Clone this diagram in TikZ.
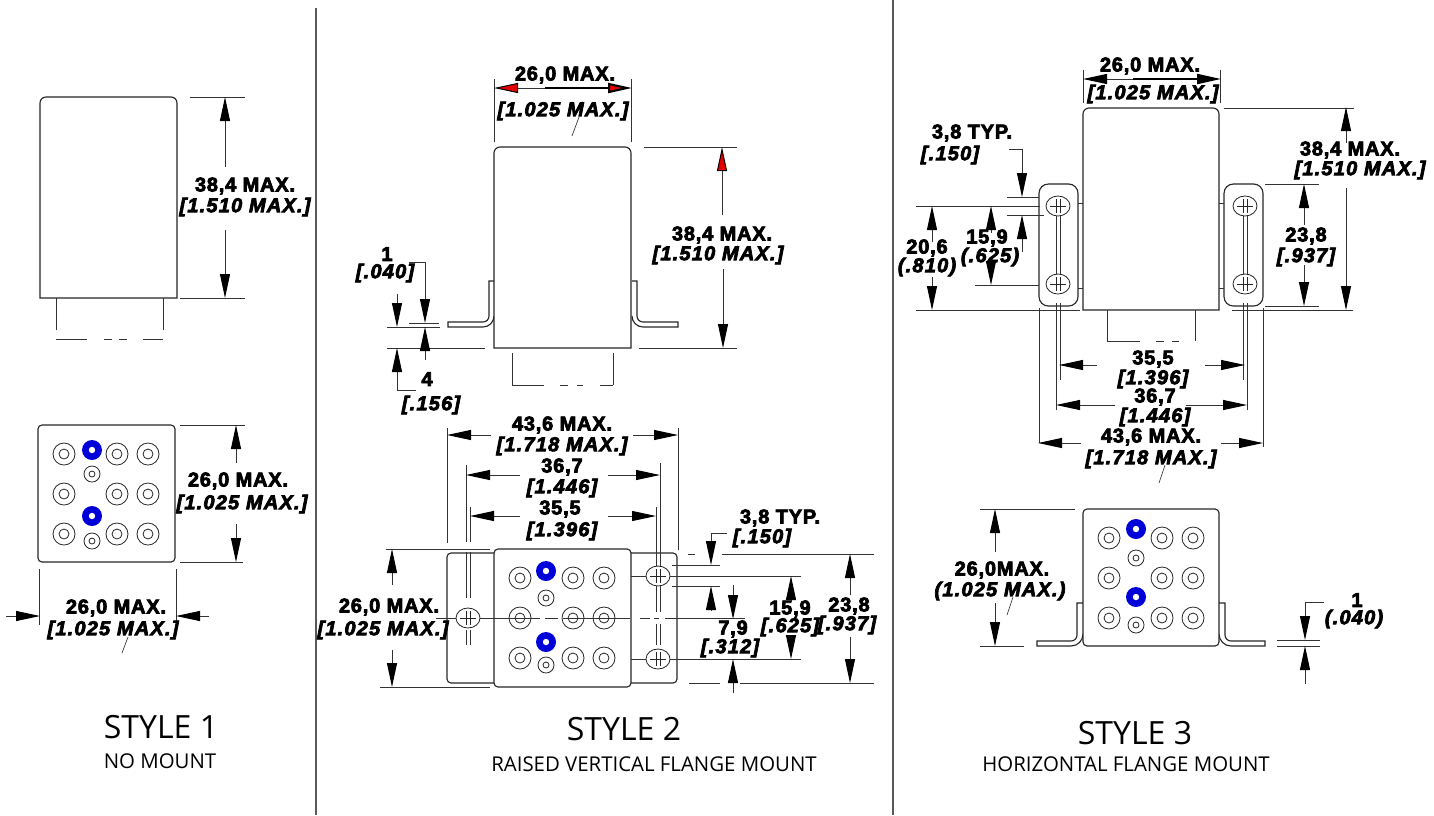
\documentclass[tikz,border=0pt]{standalone}
\usepackage{fontspec}
\usetikzlibrary{arrows.meta}
\setmainfont{Open Sans}
\font\dimbfont="Liberation Sans/B:letterspace=4" at 15pt
\font\dimifont="Liberation Sans/BI:letterspace=6" at 15pt
\tikzset{
  outline/.style={line width=.85pt,black!85},
  extline/.style={line width=.75pt,black!80},
  sepline/.style={line width=1pt,black!65},
  dimarrow/.style={line width=.75pt,black!80,-{Triangle[length=18pt,width=7.5pt,color=black]}},
  redarrow/.style={line width=.75pt,black!80,-{Triangle[length=18pt,width=7.5pt,color=black,fill=red!90!black]}},
  heavy/.style={line width=1.6pt,black},
  heavytext/.style={execute at begin node={\special{pdf:code 2 Tr 0.55 w}},execute at end node={\special{pdf:code 0 Tr 1 w}}},
  dimb/.style={inner sep=0pt,font=\dimbfont,heavytext},
  dimi/.style={inner sep=0pt,font=\dimifont,heavytext},
  bigtitle/.style={inner sep=0pt,font=\fontsize{24}{24}\selectfont},
  subtitle/.style={inner sep=0pt,font=\fontsize{15.3}{15.3}\selectfont},
}
\newcommand\pingrid[5]{%
  \begin{scope}[shift={(#1,#2)}]
    \foreach \cx/\cy in {26/29,79/29,110/29,26/69,79/69,110/69,26/109,79/109,110/109}{
      \draw[outline,line width=.6pt] (\cx,\cy) circle[radius=11] (\cx,\cy) circle[radius=5];
    }
    \foreach \cy in {49,116}{
      \draw[outline,line width=.6pt] (#3,\cy) circle[radius=8] (#3,\cy) circle[radius=3];
    }
    \foreach \cy in {#4,#5}{
      \fill[blue!85!black] (#3,\cy) circle[radius=10];
      \fill[white] (#3,\cy) circle[radius=3.2];
    }
  \end{scope}}
\newcommand\holemark[2]{%
  \draw[outline,line width=.6pt,fill=white] (#1,#2) ellipse[x radius=12,y radius=10];
  \draw[outline,line width=.5pt] (#1-8,#2)--(#1+8,#2) (#1-2,#2-7)--(#1-2,#2+7) (#1+2,#2-7)--(#1+2,#2+7);}
\newcommand\topbody[4]{%
  \draw[outline,fill=white] (#1,#4)--(#1,#2+6) arc[start angle=180,end angle=270,radius=6]--(#3-6,#2) arc[start angle=270,end angle=360,radius=6]--(#3,#4)--cycle;}
\begin{document}
\begin{tikzpicture}[x=.75pt,y=-.75pt]
\useasboundingbox (0,0) rectangle (1434,815);
% separators
\draw[sepline] (316,8)--(316,815);
\draw[sepline] (893,0)--(893,815);

%%% STYLE 1 top
\topbody{40}{97}{177}{298}
\draw[extline] (56,298)--(56,330) (163,298)--(163,330);
\draw[extline] (56,339)--(87,339) (104,339)--(112,339) (119,339)--(127,339) (143,339)--(163,339);
\draw[extline] (190,97)--(245,97) (180,298)--(245,298);
\draw[dimarrow] (225,167)--(225,97);
\draw[dimarrow] (225,230)--(225,298);
\node[dimb] (s1h) at (245,186) {38,4 MAX.};
\node[dimi] (s1hi) at (245,207) {[1.510 MAX.]};

%%% STYLE 1 bottom
\draw[outline,rounded corners=3pt] (38,425) rectangle (175,562);
\pingrid{38}{425}{54}{25}{91}
\draw[extline] (180,425)--(245,425) (180,562)--(243,562);
\draw[dimarrow] (236,463)--(236,425);
\draw[dimarrow] (236,524)--(236,562);
\node[dimb] (s1w) at (238,481) {26,0 MAX.};
\node[dimi] (s1wi) at (242,504) {[1.025 MAX.]};
\draw[extline] (39,569)--(39,625) (176,569)--(176,627);
\draw[dimarrow] (6,616)--(40,616);
\draw[dimarrow] (209,616)--(176,616);
\node[dimb] (s1b) at (116,608) {26,0 MAX.};
\node[dimi] (s1bi) at (113,630) {[1.025 MAX.]};
\draw[extline,line width=.5pt] (128,637)--(122,653);

\node[bigtitle] (t1) at (161,727) {STYLE 1};
\node[subtitle] (t1s) at (160,761) {NO MOUNT};

%%% STYLE 2 top
\draw[outline] (494,281)--(489,281)--(489,316) arc[start angle=0,end angle=90,radius=6]--(448,322)--(448,327)--(483,327) arc[start angle=90,end angle=0,radius=11];
\draw[outline] (632,281)--(637,281)--(637,316) arc[start angle=180,end angle=90,radius=6]--(678,322)--(678,327)--(643,327) arc[start angle=90,end angle=180,radius=11];
\topbody{494}{147}{631}{348}
\draw[extline] (512,353)--(512,385) (613,353)--(613,385);
\draw[extline] (512,385)--(544,385) (560,385)--(568,385) (577,385)--(583,385) (600,385)--(613,385);
\draw[extline] (494,79)--(494,142) (631,79)--(631,142);
\draw[redarrow] (545,88)--(494,88);
\draw[redarrow,heavy] (545,88)--(632,88);
\node[dimb] (s2w) at (565,75) {26,0 MAX.};
\node[dimi] (s2wi) at (563,111) {[1.025 MAX.]};
\draw[extline,line width=.5pt] (579,117)--(572,136);
\draw[extline] (644,147)--(737,147) (639,348)--(737,348);
\draw[redarrow] (722,215)--(722,147);
\draw[dimarrow] (723,269)--(723,348);
\node[dimb] (s2h) at (722,235) {38,4 MAX.};
\node[dimi] (s2hi) at (718,255) {[1.510 MAX.]};
\node[dimb] (s2a) at (387,254) {1};
\node[dimi] (s2ai) at (385,273) {[.040]};
\draw[extline] (409,323)--(439,323) (387,327)--(440,327) (387,348)--(485,348);
\draw[dimarrow] (409,262)--(425,262)--(425,323);
\draw[dimarrow] (397,294)--(397,327);
\draw[dimarrow] (416,390)--(397,390)--(397,348);
\draw[dimarrow] (425,360)--(425,327);
\node[dimb] (s2c) at (427,379) {4};
\node[dimi] (s2ci) at (431,405) {[.156]};

%%% STYLE 2 bottom
\draw[outline,rounded corners=3pt] (447,553) rectangle (677,683);
\draw[extline] (466,465)--(466,542) (470,507)--(470,542);
\draw[extline] (466,552)--(466,598) (470,552)--(470,598) (466,630)--(466,645) (470,630)--(470,645);
\draw[extline] (660,463)--(660,612) (656,507)--(656,612) (660,624)--(660,645) (656,624)--(656,645);
\draw[extline] (447,428)--(447,543) (678,428)--(678,550);
\draw[outline,fill=white,rounded corners=3pt] (494,549) rectangle (631,687);
\pingrid{494}{549}{52}{22}{93}
\draw[extline] (436,618)--(540,618) (545,618)--(558,618) (563,618)--(630,618) (640,618)--(650,618) (654,618)--(659,618) (665,618)--(745,618);
\holemark{468}{618}
\holemark{658}{576}
\holemark{658}{659}
\draw[extline] (631,576)--(646,576) (670,576)--(801,576) (631,659)--(646,659) (670,659)--(801,659);
\draw[dimarrow] (491,435)--(447,435);
\draw[dimarrow] (633,435)--(678,435);
\draw[dimarrow] (520,475)--(466,475);
\draw[dimarrow] (608,475)--(660,475);
\draw[dimarrow] (520,516)--(470,516);
\draw[dimarrow] (608,516)--(656,516);
\node[dimb] (s2d) at (562,425) {43,6 MAX.};
\node[dimi] (s2di) at (562,446) {[1.718 MAX.]};
\node[dimb] (s2e) at (562,467) {36,7};
\node[dimi] (s2ei) at (562,488) {[1.446]};
\node[dimb] (s2f) at (560,509) {35,5};
\node[dimi] (s2fi) at (562,531) {[1.396]};
\draw[extline] (386,549)--(490,549) (380,687)--(490,687);
\draw[dimarrow] (392,585)--(392,549);
\draw[dimarrow] (392,650)--(392,687);
\node[dimb,fill=white,inner sep=1pt] (s2g) at (389,607) {26,0 MAX.};
\node[dimi] (s2gi) at (383,630) {[1.025 MAX.]};
\draw[extline] (688,554)--(695,554) (722,554)--(874,554) (689,683)--(720,683) (740,683)--(874,683) (672,565)--(720,565) (672,586)--(720,586);
\node[dimb] (s2j) at (780,518) {3,8 TYP.};
\node[dimi] (s2ji) at (762,538) {[.150]};
\draw[dimarrow] (727,533)--(711,533)--(711,565);
\draw[dimarrow] (711,611)--(711,586);
\draw[dimarrow] (733,585)--(733,619);
\draw[dimarrow] (733,693)--(733,659);
\node[dimb] (s2k) at (733,629) {7,9};
\node[dimi] (s2ki) at (730,648) {[.312]};
\draw[dimarrow] (791,602)--(791,576);
\draw[dimarrow] (791,637)--(791,659);
\node[dimb] (s2l) at (790,609) {15,9};
\node[dimi] (s2li) at (790,627) {[.625]};
\draw[dimarrow] (850,595)--(850,554);
\draw[dimarrow] (850,637)--(850,683);
\node[dimb] (s2m) at (849,606) {23,8};
\node[dimi] (s2mi) at (847,625) {[.937]};

\node[bigtitle] (t2) at (624,729) {STYLE 2};
\node[subtitle] (t2s) at (654,764) {RAISED VERTICAL FLANGE MOUNT};

%%% STYLE 3 top
\topbody{1083}{108}{1219}{310}
\draw[outline,rounded corners=7pt] (1039,184) rectangle (1078,306);
\draw[outline,rounded corners=7pt] (1224,184) rectangle (1263,306);
\draw[extline] (1078,203)--(1083,203) (1078,288)--(1083,288) (1219,203)--(1224,203) (1219,288)--(1224,288);
\draw[extline] (1056,215)--(1056,275) (1060,215)--(1060,275) (1243,215)--(1243,275) (1247,215)--(1247,275);
\holemark{1058}{206}
\holemark{1058}{284}
\holemark{1245}{206}
\holemark{1245}{284}
\draw[extline] (1107,310)--(1107,341) (1195,310)--(1195,341) (1107,341)--(1140,341) (1156,341)--(1164,341) (1172,341)--(1179,341);
\draw[extline] (1039,308)--(1039,443) (1263,308)--(1263,447) (1056,303)--(1056,410) (1060,303)--(1060,380) (1243,303)--(1243,380) (1247,303)--(1247,410);
\draw[extline] (1083,70)--(1083,103) (1220,70)--(1220,103);
\draw[dimarrow] (1133,79)--(1083,79);
\draw[dimarrow,heavy] (1133,79)--(1221,79);
\node[dimb] (s3w) at (1150,66) {26,0 MAX.};
\node[dimi] (s3wi) at (1153,94) {[1.025 MAX.]};
\draw[extline] (1224,108)--(1354,108) (1232,310)--(1353,310);
\draw[dimarrow] (1346,143)--(1346,107);
\draw[dimarrow] (1346,188)--(1346,310);
\node[dimb] (s3h) at (1350,150) {38,4 MAX.};
\node[dimi] (s3hi) at (1360,170) {[1.510 MAX.]};
\draw[extline] (1265,184)--(1319,184) (1265,306)--(1319,306);
\draw[dimarrow] (1304,225)--(1304,184);
\draw[dimarrow] (1304,265)--(1304,306);
\node[dimb] (s3a) at (1306,236) {23,8};
\node[dimi] (s3ai) at (1306,257) {[.937]};
\node[dimb] (s3b) at (972,133) {3,8 TYP.};
\node[dimi] (s3bi) at (950,155) {[.150]};
\draw[dimarrow] (1009,149)--(1022,149)--(1022,197);
\draw[dimarrow] (1022,252)--(1022,215);
\draw[extline] (1007,197)--(1039,197) (1007,215)--(1044,215) (916,206)--(1040,206) (916,310)--(1080,310) (975,285)--(1039,285);
\draw[dimarrow] (932,242)--(932,206);
\draw[dimarrow] (932,277)--(932,310);
\node[dimb] (s3c) at (927,248) {20,6};
\node[dimi] (s3ci) at (927,267) {(.810)};
\draw[dimarrow] (991,233)--(991,206);
\draw[dimarrow] (991,265)--(991,285);
\node[dimb] (s3d) at (987,238) {15,9};
\node[dimi] (s3di) at (990,257) {(.625)};
\draw[dimarrow] (1097,365)--(1059,365);
\draw[dimarrow] (1205,365)--(1245,365);
\draw[dimarrow] (1115,405)--(1056,405);
\draw[dimarrow] (1186,405)--(1247,405);
\draw[dimarrow] (1081,443)--(1038,443);
\draw[dimarrow] (1221,443)--(1263,443);
\node[dimb] (s3e) at (1153,359) {35,5};
\node[dimi] (s3ei) at (1153,379) {[1.396]};
\node[dimb] (s3f) at (1155,397) {36,7};
\node[dimi] (s3fi) at (1155,417) {[1.446]};
\node[dimb] (s3g) at (1151,437) {43,6 MAX.};
\node[dimi] (s3gi) at (1151,459) {[1.718 MAX.]};
\draw[extline,line width=.5pt] (1165,465)--(1159,483);

%%% STYLE 3 bottom
\draw[outline] (1083,603)--(1077,603)--(1077,635) arc[start angle=0,end angle=90,radius=6]--(1037,641)--(1037,646)--(1071,646) arc[start angle=90,end angle=0,radius=12];
\draw[outline] (1219,603)--(1225,603)--(1225,635) arc[start angle=180,end angle=90,radius=6]--(1265,641)--(1265,646)--(1231,646) arc[start angle=90,end angle=180,radius=12];
\draw[outline,fill=white,rounded corners=3pt] (1083,509) rectangle (1219,646);
\pingrid{1083}{509}{53}{20}{88}
\draw[extline] (980,509)--(1075,509) (980,646)--(1024,646);
\draw[dimarrow] (995,552)--(995,509);
\draw[dimarrow] (995,603)--(995,646);
\node[dimb] (s3k) at (1002,570) {26,0MAX.};
\node[dimi] (s3ki) at (1000,591) {(1.025 MAX.)};
\draw[extline,line width=.5pt] (1013,597)--(1007,615);
\node[dimb] (s3l) at (1357,600) {1};
\node[dimi] (s3li) at (1354,619) {(.040)};
\draw[extline] (1277,640)--(1320,640) (1277,646)--(1320,646);
\draw[dimarrow] (1324,602)--(1305,602)--(1305,640);
\draw[dimarrow] (1305,684)--(1305,646);

\node[bigtitle] (t3) at (1135,733) {STYLE 3};
\node[subtitle] (t3s) at (1126,764) {HORIZONTAL FLANGE MOUNT};
\end{tikzpicture}
\end{document}
